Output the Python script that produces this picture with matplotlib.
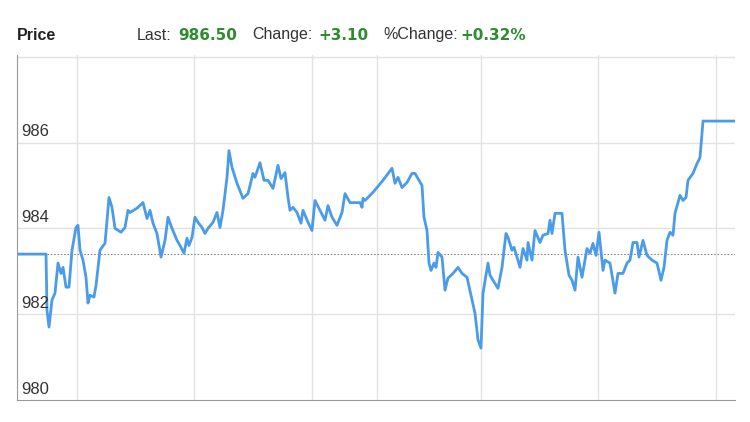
import matplotlib
matplotlib.use("Agg")
from matplotlib import pyplot as plt

# intraday price (t = sample position, price in points)
t = [0, 29, 30, 32, 35, 38, 41, 44, 46, 49, 52, 55, 59, 61, 63, 66, 69, 71, 73, 77,
     79, 83, 85, 88, 92, 95, 98, 104, 108, 111, 113, 120, 126, 130, 133, 136, 140, 144, 148, 151,
     155, 160, 163, 167, 170, 172, 175, 178, 181, 185, 188, 191, 196, 200, 203, 206, 210, 212, 215, 220,
     226, 231, 236, 238, 243, 247, 251, 256, 261, 264, 268, 271, 273, 276, 280, 284, 286, 291, 295, 298,
     303, 308, 311, 315, 320, 325, 328, 333, 343, 345, 346, 348, 356, 366, 375, 378, 381, 385, 390, 395,
     398, 405, 407, 410, 412, 414, 417, 419, 421, 425, 428, 431, 436, 441, 445, 450, 455, 458, 461, 464,
     466, 471, 473, 476, 481, 485, 489, 491, 495, 497, 500, 503, 506, 510, 511, 515, 518, 523, 526, 531,
     533, 535, 538, 545, 548, 552, 555, 558, 561, 565, 570, 573, 576, 579, 582, 586, 588, 593, 598, 601,
     606, 610, 613, 616, 620, 622, 626, 630, 635, 640, 644, 647, 650, 653, 656, 658, 663, 666, 669, 671,
     676, 680, 683, 686, 717]
price = [983.40, 983.40, 982.09, 981.70, 982.33, 982.49, 983.19, 982.95, 983.09, 982.63,
         982.63, 983.49, 984.02, 984.07, 983.49, 983.26, 982.86, 982.26, 982.44, 982.40,
         982.67, 983.49, 983.56, 983.65, 984.72, 984.49, 984.00, 983.91, 984.02, 984.42,
         984.37, 984.47, 984.60, 984.23, 984.42, 984.12, 983.88, 983.33, 983.72, 984.26,
         984.00, 983.72, 983.60, 983.42, 983.77, 983.60, 983.79, 984.26, 984.14, 984.02,
         983.88, 984.00, 984.14, 984.37, 984.02, 984.42, 985.19, 985.81, 985.42, 985.05,
         984.70, 984.81, 985.28, 985.19, 985.53, 985.12, 985.12, 984.93, 985.47, 985.16,
         985.30, 984.72, 984.42, 984.49, 984.37, 984.12, 984.42, 984.14, 983.95, 984.65,
         984.42, 984.19, 984.53, 984.26, 984.07, 984.37, 984.81, 984.60, 984.60, 984.49,
         984.70, 984.65, 984.84, 985.12, 985.40, 985.05, 985.19, 984.95, 985.07, 985.28,
         985.28, 985.00, 984.26, 983.95, 983.19, 983.02, 983.19, 983.09, 983.44, 983.33,
         982.56, 982.84, 982.95, 983.09, 982.95, 982.86, 982.33, 982.02, 981.40, 981.21,
         982.49, 983.19, 982.91, 982.79, 982.60, 983.09, 983.88, 983.79, 983.49, 983.56,
         983.33, 983.09, 983.53, 983.26, 983.67, 983.26, 983.95, 983.67, 983.84, 983.88,
         984.19, 983.88, 984.35, 984.35, 983.49, 982.91, 982.79, 982.56, 983.33, 982.86,
         983.53, 983.42, 983.65, 983.37, 983.91, 983.02, 983.26, 983.19, 982.49, 982.95,
         982.95, 983.19, 983.26, 983.67, 983.67, 983.33, 983.72, 983.37, 983.26, 983.19,
         982.79, 983.09, 983.72, 983.91, 983.84, 984.35, 984.77, 984.65, 984.72, 985.12,
         985.28, 985.51, 985.65, 986.50, 986.50]

prev_close = 983.40
session_breaks = [60, 177, 295, 360, 464, 581, 699]
y_ticks = [980, 982, 984, 986, 988]
y_labels = ["980", "982", "984", "986", ""]

# text, colour, is value, left pixel
header = [("Price", "#222222", False, 17),
          ("Last:", "#333333", False, 137),
          ("986.50", "#2e8b2e", True, 178),
          ("Change:", "#333333", False, 252),
          ("+3.10", "#2e8b2e", True, 318),
          ("%Change:", "#333333", False, 383),
          ("+0.32%", "#2e8b2e", True, 460)]

plt.rcParams["font.family"] = ["Liberation Sans", "DejaVu Sans"]

fig = plt.figure(figsize=(7.5, 4.22), dpi=100)
ax = fig.add_axes([17 / 750, 22 / 422, 718 / 750, 345 / 422])

ax.set_xlim(0, 718)
ax.set_ylim(980, 988.04)

for xb in session_breaks:
    ax.axvline(xb, color="#e2e2e2", lw=1, zorder=0)
for yv in y_ticks[1:]:
    ax.axhline(yv, color="#e2e2e2", lw=1, zorder=0)

ax.axhline(prev_close, color="#8a8a8a", lw=0.8, ls=(0, (1.5, 1.5)), zorder=1)
ax.plot(t, price, color="#4a9be8", lw=2.0, zorder=2, solid_joinstyle="round")

ax.set_xticks([])
ax.set_yticks([])
for yv, lab in zip(y_ticks, y_labels):
    if lab:
        ax.text(4, yv + 0.08, lab, fontsize=12, color="#333333",
                ha="left", va="bottom")

for side in ["top", "right"]:
    ax.spines[side].set_visible(False)
ax.spines["left"].set_color("#999999")
ax.spines["bottom"].set_color("#999999")

for txt, col, is_val, px in header:
    if is_val:
        fig.text(px / 750, 1 - 35 / 422, txt, color=col, fontweight="bold",
                 fontsize=11, family="DejaVu Sans", ha="left", va="center")
    else:
        fig.text(px / 750, 1 - 35 / 422, txt, color=col,
                 fontweight="bold" if txt == "Price" else "normal",
                 fontsize=11.5, ha="left", va="center")

fig.savefig("out.png", dpi=100, facecolor="white")
